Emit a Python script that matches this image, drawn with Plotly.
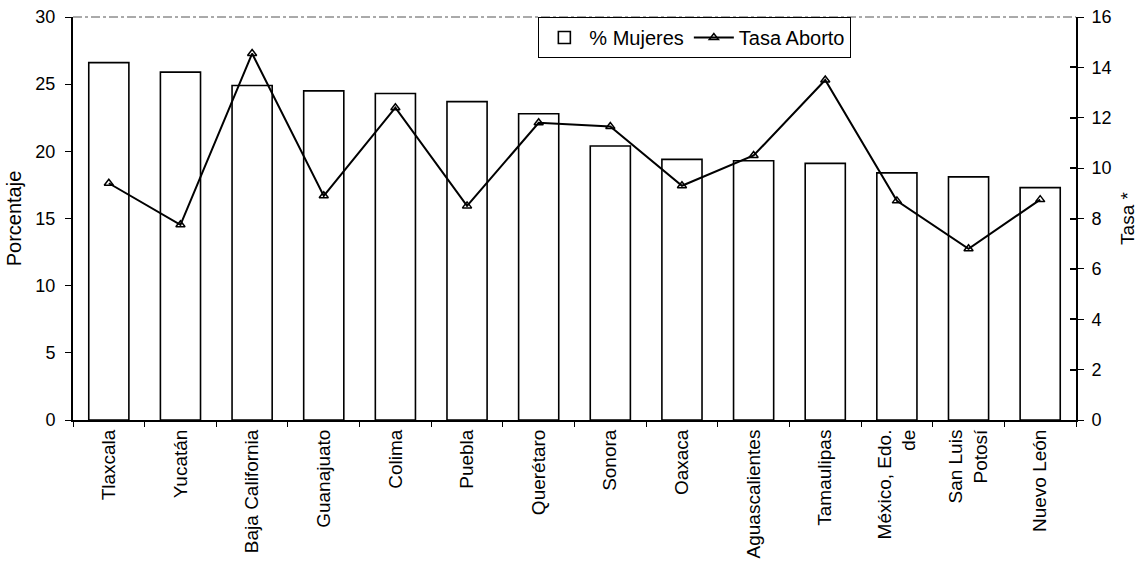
import plotly.graph_objects as go

states = ["Tlaxcala", "Yucatán", "Baja California", "Guanajuato", "Colima", "Puebla",
          "Querétaro", "Sonora", "Oaxaca", "Aguascalientes", "Tamaulipas",
          "México, Edo.<br>de", "San Luis<br>Potosí", "Nuevo León"]
pct_mujeres = [26.6, 25.9, 24.9, 24.5, 24.3, 23.7, 22.8, 20.4, 19.4, 19.3, 19.1, 18.4, 18.1, 17.3]
tasa_aborto = [9.4, 7.75, 14.55, 8.9, 12.4, 8.5, 11.8, 11.65, 9.3, 10.5, 13.5, 8.7, 6.8, 8.75]

left_ticks = [0, 5, 10, 15, 20, 25, 30]
right_ticks = [0, 2, 4, 6, 8, 10, 12, 14, 16]

fig = go.Figure()
fig.add_trace(go.Bar(
    x=states, y=pct_mujeres, name="% Mujeres",
    marker=dict(color="white", line=dict(color="black", width=1.6)),
))
fig.add_trace(go.Scatter(
    x=states, y=tasa_aborto, name="Tasa Aborto", yaxis="y2",
    mode="lines+markers",
    line=dict(color="black", width=2),
    marker=dict(symbol="triangle-up-open", size=8, color="black", line=dict(width=1.5)),
))
# transparent helper trace so the right axis also gets inner tick marks
fig.add_trace(go.Scatter(x=states, y=tasa_aborto, yaxis="y3", mode="markers",
                         marker=dict(opacity=0), showlegend=False, hoverinfo="skip"))

font = dict(family="Liberation Sans, Arial, sans-serif", color="black")
fig.update_layout(
    width=1143, height=577,
    margin=dict(l=73, r=67, t=17, b=157, autoexpand=False),
    paper_bgcolor="white", plot_bgcolor="white",
    font=dict(size=17, **font),
    bargap=0.44,
    showlegend=True,
    legend=dict(
        orientation="h", x=0.62, xanchor="center", y=1.0, yanchor="top",
        bordercolor="black", borderwidth=1, bgcolor="white",
        font=dict(size=20, **font), itemwidth=40,
    ),
    xaxis=dict(
        type="category", range=[-0.5, len(states) - 0.5], tickangle=-90,
        tickson="boundaries", ticks="outside", ticklen=5, tickcolor="black",
        showline=True, linecolor="black", linewidth=2, mirror=False,
        tickfont=dict(size=19, **font), showgrid=False, automargin=False,
    ),
    yaxis=dict(
        range=[0, 30], tickvals=left_ticks, ticks="outside", ticklen=6,
        tickcolor="black", showline=True, linecolor="black", linewidth=2,
        showgrid=False, zeroline=False, automargin=False, ticklabelstandoff=6,
        title=dict(text="Porcentaje", font=dict(size=20, **font), standoff=8),
        tickfont=dict(size=18, **font),
    ),
    yaxis2=dict(
        range=[0, 16], tickvals=right_ticks, overlaying="y", side="right",
        ticks="outside", ticklen=6, tickcolor="black", showline=True,
        linecolor="black", linewidth=2, showgrid=False, zeroline=False,
        automargin=False, ticklabelstandoff=4,
        title=dict(text="Tasa *", font=dict(size=19, **font), standoff=10),
        tickfont=dict(size=18, **font),
    ),
    yaxis3=dict(
        range=[0, 16], tickvals=right_ticks, overlaying="y", side="right",
        ticks="inside", ticklen=6, tickcolor="black", tickwidth=1.5,
        showticklabels=False, showline=False, showgrid=False, zeroline=False,
        automargin=False,
    ),
    shapes=[dict(type="line", xref="paper", yref="paper", x0=0, x1=1, y0=1, y1=1,
                 line=dict(color="#555", width=1, dash="dashdot"))],
)

fig.write_html("out.html", config={"displayModeBar": False},
               post_script="document.body.style.margin='0';")
